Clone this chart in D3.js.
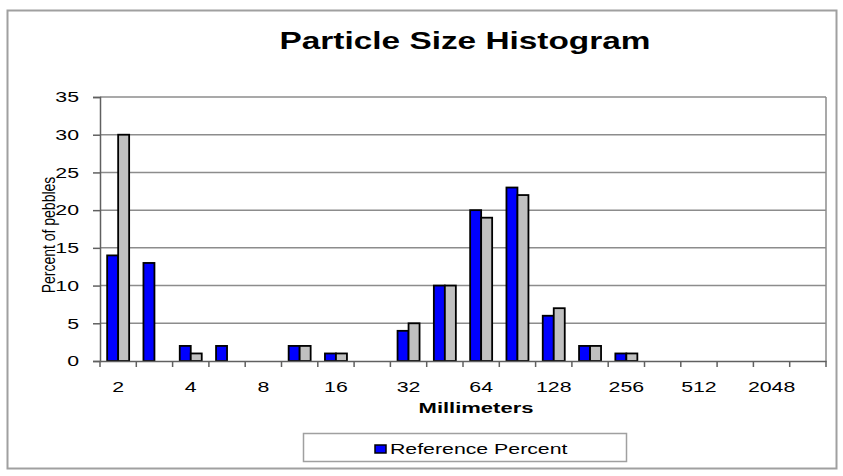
<!DOCTYPE html>
<html><head><meta charset="utf-8">
<script src="https://cdn.jsdelivr.net/npm/d3@7/dist/d3.min.js"></script>
<style>body{margin:0;background:#fff}svg{display:block}</style>
</head><body><svg id="c" width="843" height="476"></svg>
<script>
const categories = ["2","2.8","4","5.6","8","11","16","22.6","32","45","64","90","128","180","256","362","512","1024","2048","4096"];
const tickLabels = ["2","4","8","16","32","64","128","256","512","2048"];
const referencePercent = [14,13,2,2,0,2,1,0,4,10,20,23,6,2,1,0,0,0,0,0];
const samplePercent    = [30,0,1,0,0,2,1,0,5,10,19,22,7,2,1,0,0,0,0,0];
const yTicks = [0,5,10,15,20,25,30,35];
const seriesNames = ["Reference Percent","Sample Percent"];
const seriesColors = ["#0000ff","#c0c0c0"];

const SX = 1.42; // horizontal stretch of the text in the picture
const svg = d3.select("#c");
const font = "'Liberation Sans', Arial, sans-serif";
svg.append("rect").attr("x",7.5).attr("y",10.5).attr("width",829).attr("height",458)
  .attr("fill","#fff").attr("stroke","#a0a0a0").attr("stroke-width",2);

const L=100,R=826,T=97,B=361;
const x = d3.scaleBand().domain(categories).range([L,R]).padding(0);
const y = d3.scaleLinear().domain([0,35]).range([B,T]);
const inner = d3.scaleBand().domain([0,1]).range([0,x.bandwidth()]).paddingInner(0).paddingOuter(0.65);

svg.append("g").selectAll("line").data(yTicks.filter(d=>d>0)).join("line")
  .attr("x1",L).attr("x2",R).attr("y1",d=>y(d)).attr("y2",d=>y(d))
  .attr("stroke","#8c8c8c").attr("stroke-width",1.5);
svg.append("line").attr("x1",R).attr("x2",R).attr("y1",T).attr("y2",B).attr("stroke","#8c8c8c").attr("stroke-width",1.5);

const series=[referencePercent,samplePercent];
series.forEach((vals,si)=>{
  svg.append("g").selectAll("rect").data(vals.map((v,i)=>({c:categories[i],v})).filter(d=>d.v>0)).join("rect")
    .attr("x",d=>x(d.c)+inner(si)).attr("width",inner.bandwidth())
    .attr("y",d=>y(d.v)).attr("height",d=>B-y(d.v))
    .attr("fill",seriesColors[si]).attr("stroke","#000").attr("stroke-width",1.8);
});

const ya = svg.append("g").attr("transform",`translate(${L},0)`)
  .call(d3.axisLeft(y).tickValues(yTicks).tickSize(7).tickPadding(14));
ya.select(".domain").attr("stroke","#606060").attr("stroke-width",1.5);
ya.selectAll(".tick line").attr("stroke","#606060").attr("stroke-width",1.5);
ya.selectAll("text").each(function(){
  const t=d3.select(this); const tx=+t.attr("x");
  t.attr("x",0).attr("transform",`translate(${tx},0) scale(${SX},1)`);
}).attr("font-family",font).attr("font-size",15).attr("fill","#000");

const xa = svg.append("g").attr("transform",`translate(0,${B})`)
  .call(d3.axisBottom(x).tickSize(0).tickPadding(20).tickFormat(d=>tickLabels.includes(d)?d:""));
xa.select(".domain").attr("stroke","#606060").attr("stroke-width",1.5);
xa.selectAll(".tick line").remove();
xa.selectAll("text").each(function(){
  const t=d3.select(this); const ty=+t.attr("y");
  t.attr("y",0).attr("transform",`translate(0,${ty}) scale(${SX},1)`);
}).attr("font-family",font).attr("font-size",15).attr("fill","#000");
svg.append("g").selectAll("line").data(d3.range(categories.length+1)).join("line")
  .attr("x1",i=>L+i*x.step()).attr("x2",i=>L+i*x.step())
  .attr("y1",B).attr("y2",B+6).attr("stroke","#606060").attr("stroke-width",1.5);

function stretchedText(px,py,size,bold,txt){
  return svg.append("text").attr("transform",`translate(${px},${py}) scale(${SX},1)`)
    .attr("text-anchor","middle").attr("font-family",font)
    .attr("font-weight",bold?"bold":"normal").attr("font-size",size).text(txt);
}
stretchedText(465,49,23.5,true,"Particle Size Histogram");
stretchedText(476,413,15.5,true,"Millimeters");
svg.append("text").attr("transform","translate(55,235) scale(1.3,1) rotate(-90)").attr("text-anchor","middle")
  .attr("font-family",font).attr("font-size",14).text("Percent of pebbles");

svg.append("rect").attr("x",303.5).attr("y",433.5).attr("width",323).attr("height",28)
  .attr("fill","#fff").attr("stroke","#a0a0a0").attr("stroke-width",1.5);
svg.append("rect").attr("x",375).attr("y",445).attr("width",11).attr("height",8)
  .attr("fill",seriesColors[0]).attr("stroke","#000").attr("stroke-width",1.5);
svg.append("text").attr("transform",`translate(390,454) scale(${SX},1)`)
  .attr("font-family",font).attr("font-size",15).text(seriesNames[0]);
</script></body></html>
